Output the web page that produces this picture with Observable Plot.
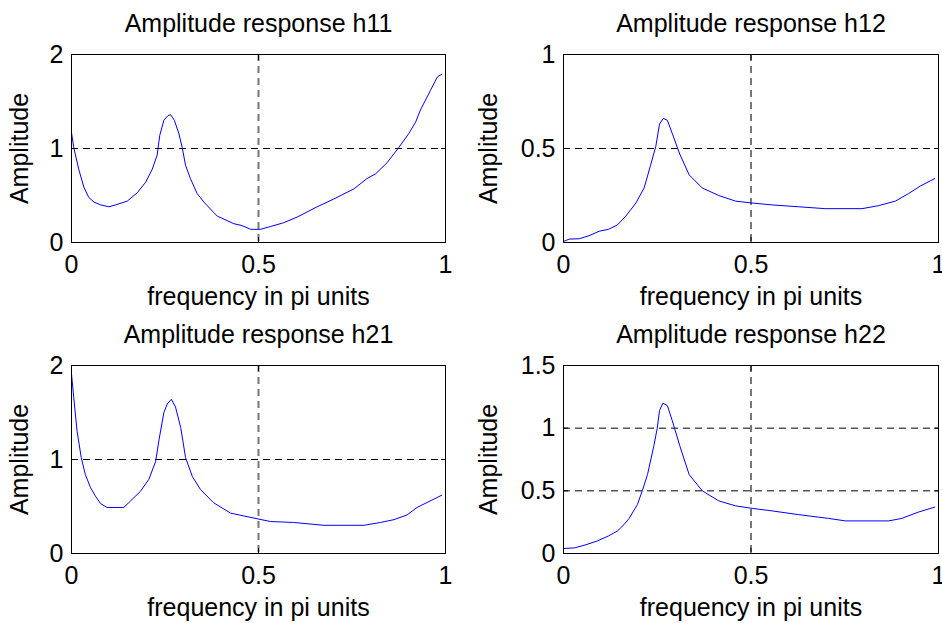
<!DOCTYPE html>
<html>
<head>
<meta charset="utf-8">
<script src="https://cdn.jsdelivr.net/npm/d3@7"></script>
<script src="https://cdn.jsdelivr.net/npm/@observablehq/plot@0.6"></script>
<style>
  html, body { margin: 0; padding: 0; background: #fff; }
  #chart { position: relative; width: 942px; height: 623px; overflow: hidden; }
  #chart svg { position: absolute; }
</style>
</head>
<body>
<div id="chart"></div>
<script>
// ---------- data ----------
const xTicks = [0, 0.5, 1];
const xLabel = "frequency in pi units";
const yLabel = "Amplitude";

const h11Freq = [0,0.006,0.02,0.033,0.046,0.06,0.078,0.10,0.118,0.149,0.176,0.198,0.216,0.229,0.236,0.247,0.258,0.265,0.275,0.287,0.296,0.305,0.318,0.336,0.354,0.38,0.39,0.434,0.456,0.479,0.505,0.532,0.567,0.603,0.657,0.70,0.755,0.79,0.813,0.844,0.875,0.902,0.92,0.933,0.96,0.978,0.99];
const h11Amp  = [1.17,1.01,0.77,0.59,0.48,0.43,0.40,0.38,0.40,0.44,0.53,0.64,0.78,0.93,1.14,1.30,1.35,1.36,1.30,1.16,1.01,0.82,0.68,0.52,0.43,0.32,0.28,0.20,0.18,0.14,0.14,0.17,0.21,0.27,0.38,0.46,0.57,0.68,0.73,0.85,1.01,1.16,1.28,1.41,1.62,1.76,1.79];

const h12Freq = [0,0.015,0.042,0.068,0.095,0.12,0.144,0.166,0.193,0.215,0.232,0.246,0.256,0.266,0.277,0.29,0.31,0.335,0.37,0.414,0.459,0.503,0.556,0.627,0.698,0.796,0.84,0.885,0.92,0.951,0.99];
const h12Amp  = [0.005,0.018,0.02,0.036,0.06,0.07,0.094,0.14,0.21,0.29,0.41,0.51,0.63,0.66,0.65,0.58,0.47,0.36,0.29,0.25,0.22,0.21,0.20,0.19,0.18,0.18,0.196,0.22,0.26,0.30,0.34];

const h21Freq = [0,0.006,0.015,0.026,0.037,0.051,0.064,0.078,0.095,0.14,0.158,0.184,0.207,0.225,0.234,0.247,0.256,0.267,0.278,0.292,0.305,0.323,0.345,0.38,0.425,0.46,0.496,0.532,0.594,0.675,0.782,0.826,0.862,0.897,0.924,0.99];
const h21Amp  = [1.91,1.66,1.30,1.02,0.84,0.70,0.61,0.53,0.49,0.49,0.56,0.66,0.79,0.98,1.21,1.50,1.59,1.64,1.56,1.34,1.02,0.82,0.68,0.54,0.43,0.40,0.37,0.34,0.33,0.30,0.30,0.33,0.36,0.41,0.49,0.62];

const h22Freq = [0,0.03,0.06,0.09,0.12,0.144,0.161,0.175,0.197,0.21,0.224,0.241,0.25,0.256,0.265,0.277,0.29,0.31,0.335,0.37,0.414,0.459,0.503,0.556,0.627,0.707,0.752,0.867,0.902,0.946,0.99];
const h22Amp  = [0.04,0.045,0.07,0.10,0.14,0.18,0.23,0.28,0.39,0.50,0.63,0.86,1.00,1.14,1.20,1.18,1.06,0.86,0.63,0.50,0.42,0.38,0.36,0.34,0.31,0.28,0.26,0.26,0.28,0.33,0.37];

const titles = ["Amplitude response h11", "Amplitude response h12", "Amplitude response h21", "Amplitude response h22"];
const yMaxes = [2, 1, 2, 1.5];
const yTickSets = [[0, 1, 2], [0, 0.5, 1], [0, 1, 2], [0, 0.5, 1, 1.5]];
const freqs = [h11Freq, h12Freq, h21Freq, h22Freq];
const amps = [h11Amp, h12Amp, h21Amp, h22Amp];

// ---------- layout ----------
const layout = [
  {left: 0,   top: 0,   width: 471, height: 311, mL: 71, mR: 26, mT: 54, mB: 69, ylabDx: -52},
  {left: 471, top: 0,   width: 471, height: 311, mL: 92, mR: 4,  mT: 54, mB: 69, ylabDx: -75},
  {left: 0,   top: 311, width: 471, height: 312, mL: 71, mR: 26, mT: 54, mB: 70, ylabDx: -52},
  {left: 471, top: 311, width: 471, height: 312, mL: 92, mR: 4,  mT: 54, mB: 70, ylabDx: -75}
];

const FONT = "Liberation Sans, Arial, Helvetica, sans-serif";
const FS = 25;
const container = document.getElementById("chart");

titles.forEach((title, i) => {
  const L = layout[i];
  const yMax = yMaxes[i];
  const yTicks = yTickSets[i];
  const rows = freqs[i].map((f, j) => ({f, a: amps[i][j]}));
  const plot = Plot.plot({
    width: L.width,
    height: L.height,
    marginLeft: L.mL, marginRight: L.mR, marginTop: L.mT, marginBottom: L.mB,
    style: {fontFamily: FONT, fontSize: FS + "px", color: "black", background: "white", overflow: "visible"},
    x: {domain: [0, 1], label: null},
    y: {domain: [0, yMax], label: null},
    marks: [
      Plot.ruleY(yTicks.filter(v => v > 0 && v < yMax), {stroke: "black", strokeWidth: 1, strokeDasharray: "7,5"}),
      Plot.ruleX(xTicks.filter(v => v > 0 && v < 1), {stroke: "#777", strokeWidth: 2, strokeDasharray: "7,5"}),
      Plot.line(rows, {x: "f", y: "a", stroke: "#0000ff", strokeWidth: 1}),
      Plot.frame({stroke: "black", strokeWidth: 1}),
      Plot.axisX(xTicks, {anchor: "bottom", tickSize: -5, fill: "none", label: null}),
      Plot.axisX(xTicks, {anchor: "top", tickSize: -5, fill: "none", label: null}),
      Plot.axisY(yTicks, {anchor: "left", tickSize: -5, fill: "none", label: null}),
      Plot.axisY(yTicks, {anchor: "right", tickSize: -5, fill: "none", label: null}),
      Plot.axisX(xTicks, {anchor: "bottom", tickSize: 0, tickPadding: 13, fontSize: FS, label: null, tickFormat: d3.format("~g")}),
      Plot.axisY(yTicks, {anchor: "left", tickSize: 0, tickPadding: 8, fontSize: FS, label: null, tickFormat: d3.format("~g")}),
      Plot.text([title], {text: d => d, frameAnchor: "top", dy: -31, fontSize: FS, textAnchor: "middle", lineAnchor: "middle"}),
      Plot.text([xLabel], {text: d => d, frameAnchor: "bottom", dy: 54, fontSize: FS, textAnchor: "middle", lineAnchor: "middle"}),
      Plot.text([yLabel], {text: d => d, frameAnchor: "left", dx: L.ylabDx, rotate: -90, fontSize: FS, textAnchor: "middle", lineAnchor: "middle"})
    ]
  });
  plot.style.left = L.left + "px";
  plot.style.top = L.top + "px";
  container.appendChild(plot);
});
</script>
</body>
</html>
